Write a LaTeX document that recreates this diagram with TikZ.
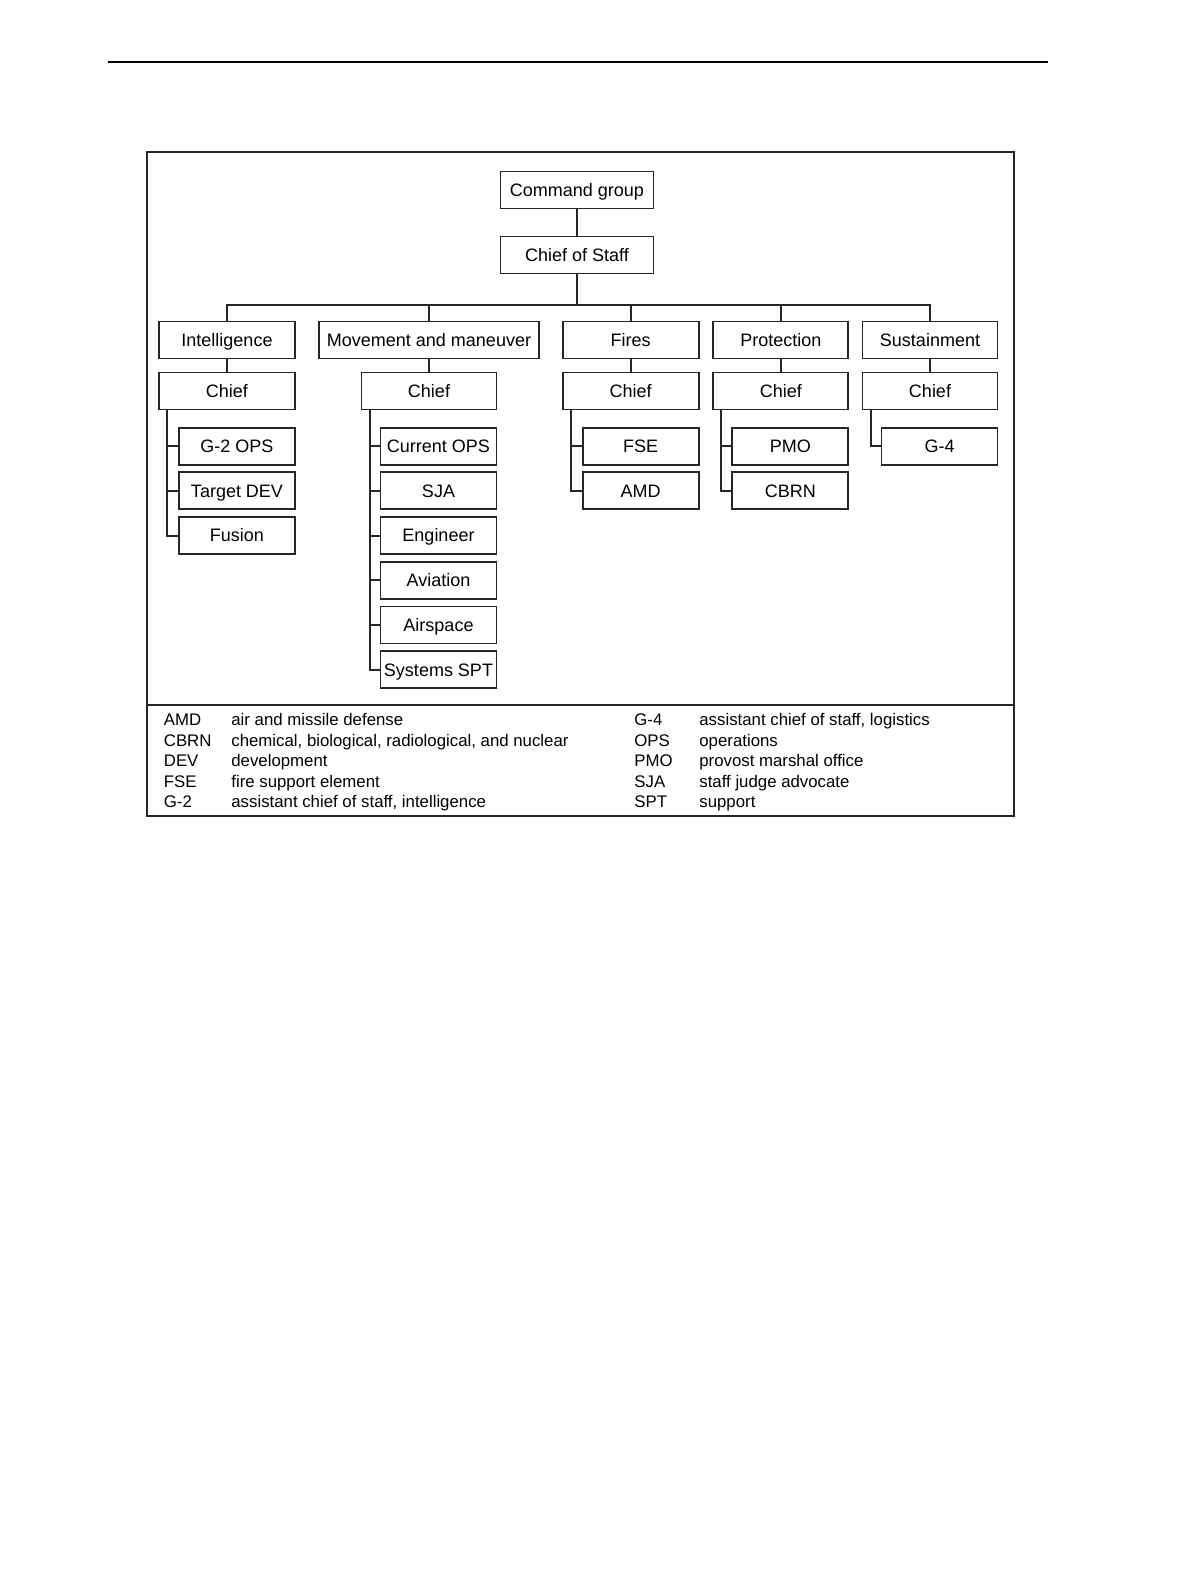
\documentclass[tikz,border=0pt]{standalone}
\usepackage{fontspec}
\setmainfont{Liberation Sans}
\usetikzlibrary{calc}

\begin{document}
\begin{tikzpicture}[x=0.5pt, y=-0.5pt,
  box/.style = {shape=rectangle, draw=black!85, line width=0.95pt, inner sep=0pt,
    minimum height=18.5pt, text height=8pt, text depth=1.6pt,
    align=center, font=\fontsize{9}{11}\selectfont},
  head/.style = {box, minimum width=#1},
  leaf/.style = {box, minimum width=58pt, anchor=east},
  wire/.style = {draw=black!85, line width=0.95pt},
  key/.style = {anchor=base west, inner sep=0pt, font=\fontsize{8.4}{10}\selectfont}]
  \useasboundingbox (0,0) rectangle (1200,1575);
  % page rule and frame
  \draw[line width=1.2pt] (108,62) -- (1048,62);
  \draw[black!85, line width=1pt] (147,152) rectangle (1014,816);
  \draw[black!85, line width=1pt] (147,705) -- (1014,705);

  \node[head=76.5pt] (cmd) at (577,190) {Command group};
  \node[head=76.5pt] (cos) at (577,255) {Chief of Staff};
  \coordinate (bus) at (577,305);

  \foreach \n/\x/\w/\cw/\t in {intel/227/68/68/Intelligence,
      move/429/110/67.5/Movement and maneuver, fires/630.7/68/68/Fires,
      prot/780.8/67.5/67.5/Protection, sust/930/67.5/67.5/Sustainment} {
    \node[head=\w pt] (\n) at (\x,340) {\t};
    \node[head=\cw pt] (\n-c) at (\x,391) {Chief};
    \draw[wire] (\n) -- (\n-c);
  }

  \draw[wire] (cmd) -- (cos) -- (bus);
  \draw[wire] (intel.north) |- (bus) -| (sust.north);
  \draw[wire] (move.north) -- (move.north |- bus);
  \draw[wire] (fires.north) -- (fires.north |- bus);
  \draw[wire] (prot.north) -- (prot.north |- bus);

  \foreach \n/\leaves in {intel/{G-2 OPS,Target DEV,Fusion},
      move/{Current OPS,SJA,Engineer,Aviation,Airspace,Systems SPT},
      fires/{FSE,AMD}, prot/{PMO,CBRN}, sust/{G-4}} {
    \coordinate (\n-s) at ($(\n-c.south west)+(9,0)$);
    \foreach \t [count=\i] in \leaves {
      \node[leaf] (\n-\i) at ($(\n-c.south east)+(0,{35.7+44.7*(\i-1)})$) {\t};
      \draw[wire] (\n-s) |- (\n-\i.west);
    }
  }

  % legend
  \foreach \a/\d [count=\i] in {AMD/air and missile defense,
      CBRN/{chemical, biological, radiological, and nuclear},
      DEV/development, FSE/fire support element,
      G-2/{assistant chief of staff, intelligence}} {
    \node[key] (ka\i) at (163.5,{725.7+20.5*(\i-1)}) {\a};
    \node[key] (da\i) at (231,{725.7+20.5*(\i-1)}) {\d};
  }
  \foreach \a/\d [count=\i] in {G-4/{assistant chief of staff, logistics},
      OPS/operations, PMO/provost marshal office,
      SJA/staff judge advocate, SPT/support} {
    \node[key] (kb\i) at (634,{725.7+20.5*(\i-1)}) {\a};
    \node[key] (db\i) at (699,{725.7+20.5*(\i-1)}) {\d};
  }
\end{tikzpicture}
\end{document}
